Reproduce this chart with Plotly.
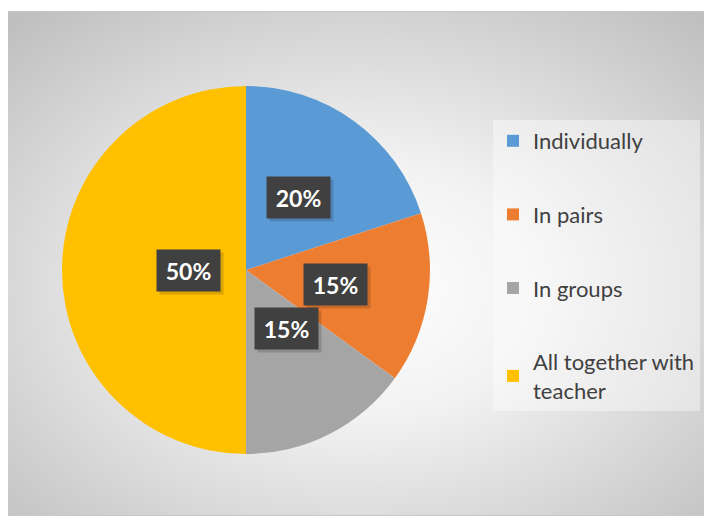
import base64
import numpy as np
import plotly.graph_objects as go

labels = ['Individually', 'In pairs', 'In groups', 'All together with teacher']
legend_names = ['Individually', 'In pairs', 'In groups', 'All together with<br>teacher']
values = [20, 15, 15, 50]
colors = ['#5B9BD5', '#ED7D31', '#A5A5A5', '#FFC000']

# the page body has an 8px margin, so the figure is sized to the visible area
OFF = 8
W, H = 712 - OFF, 516 - OFF
# pie geometry in page pixels
cx_px, cy_px, r_px = 246 - OFF, 270 - OFF, 184

# radial gradient background for the chart area
svg = (
    '<svg xmlns="http://www.w3.org/2000/svg" width="708" height="505">'
    '<defs><radialGradient id="g" cx="50%" cy="55%" r="72%">'
    '<stop offset="0" stop-color="#ffffff"/>'
    '<stop offset="0.35" stop-color="#f2f2f2"/>'
    '<stop offset="1" stop-color="#bfbfbf"/>'
    '</radialGradient></defs>'
    '<rect x="0" y="0" width="708" height="505" fill="url(#g)" stroke="#c8c8c8" stroke-width="2"/>'
    '</svg>'
)
bg_src = 'data:image/svg+xml;base64,' + base64.b64encode(svg.encode()).decode()

fig = go.Figure()

fig.add_trace(go.Pie(
    labels=labels,
    values=values,
    sort=False,
    direction='clockwise',
    rotation=0,
    marker=dict(colors=colors, line=dict(width=0)),
    textinfo='none',
    hoverinfo='label+percent',
    showlegend=False,
    domain=dict(x=[(cx_px - r_px) / W, (cx_px + r_px) / W],
                y=[(H - cy_px - r_px) / H, (H - cy_px + r_px) / H]),
))

# legend entries
for name, col in zip(legend_names, colors):
    fig.add_trace(go.Scatter(
        x=[None], y=[None],
        mode='markers',
        marker=dict(symbol='square', color=col, size=14),
        name=name,
        legendgroup=name,
        showlegend=True,
    ))

# percentage labels in dark boxes
total = sum(values)
start = 0.0
annotations = []
for v in values:
    mid = (start + v / 2) / total * 2 * np.pi
    start += v
    lx = cx_px + 0.49 * r_px * np.sin(mid)
    ly = cy_px - 0.49 * r_px * np.cos(mid)
    pct = f'{round(v / total * 100)}%'
    # shadow
    annotations.append(dict(
        x=(lx + 3) / W, y=(H - ly - 3) / H, xref='paper', yref='paper',
        text='', showarrow=False, width=63, height=41, borderpad=0,
        bgcolor='rgba(0,0,0,0.15)',
    ))
    annotations.append(dict(
        x=lx / W, y=(H - ly) / H, xref='paper', yref='paper',
        text=f'<b>{pct}</b>', showarrow=False, width=63, height=41, borderpad=0,
        bgcolor='#404040', font=dict(family='Lato, sans-serif', size=23, color='white'),
    ))

fig.update_layout(
    width=W, height=H,
    margin=dict(l=0, r=0, t=0, b=0),
    paper_bgcolor='white',
    plot_bgcolor='rgba(0,0,0,0)',
    xaxis=dict(visible=False),
    yaxis=dict(visible=False),
    images=[dict(source=bg_src, xref='paper', yref='paper',
                 x=(6 - OFF) / W, y=(H - (11 - OFF)) / H,
                 sizex=708 / W, sizey=505 / H,
                 xanchor='left', yanchor='top', sizing='stretch', layer='below')],
    legend=dict(
        x=(493 - OFF) / W, y=(H - (120 - OFF)) / H, xanchor='left', yanchor='top',
        bgcolor='rgba(255,255,255,0.4)',
        font=dict(family='Lato, sans-serif', size=22, color='#404040'),
        traceorder='grouped', tracegroupgap=42,
        itemsizing='constant',
        entrywidth=176,
    ),
    annotations=annotations,
)

fig.write_html('out.html')
